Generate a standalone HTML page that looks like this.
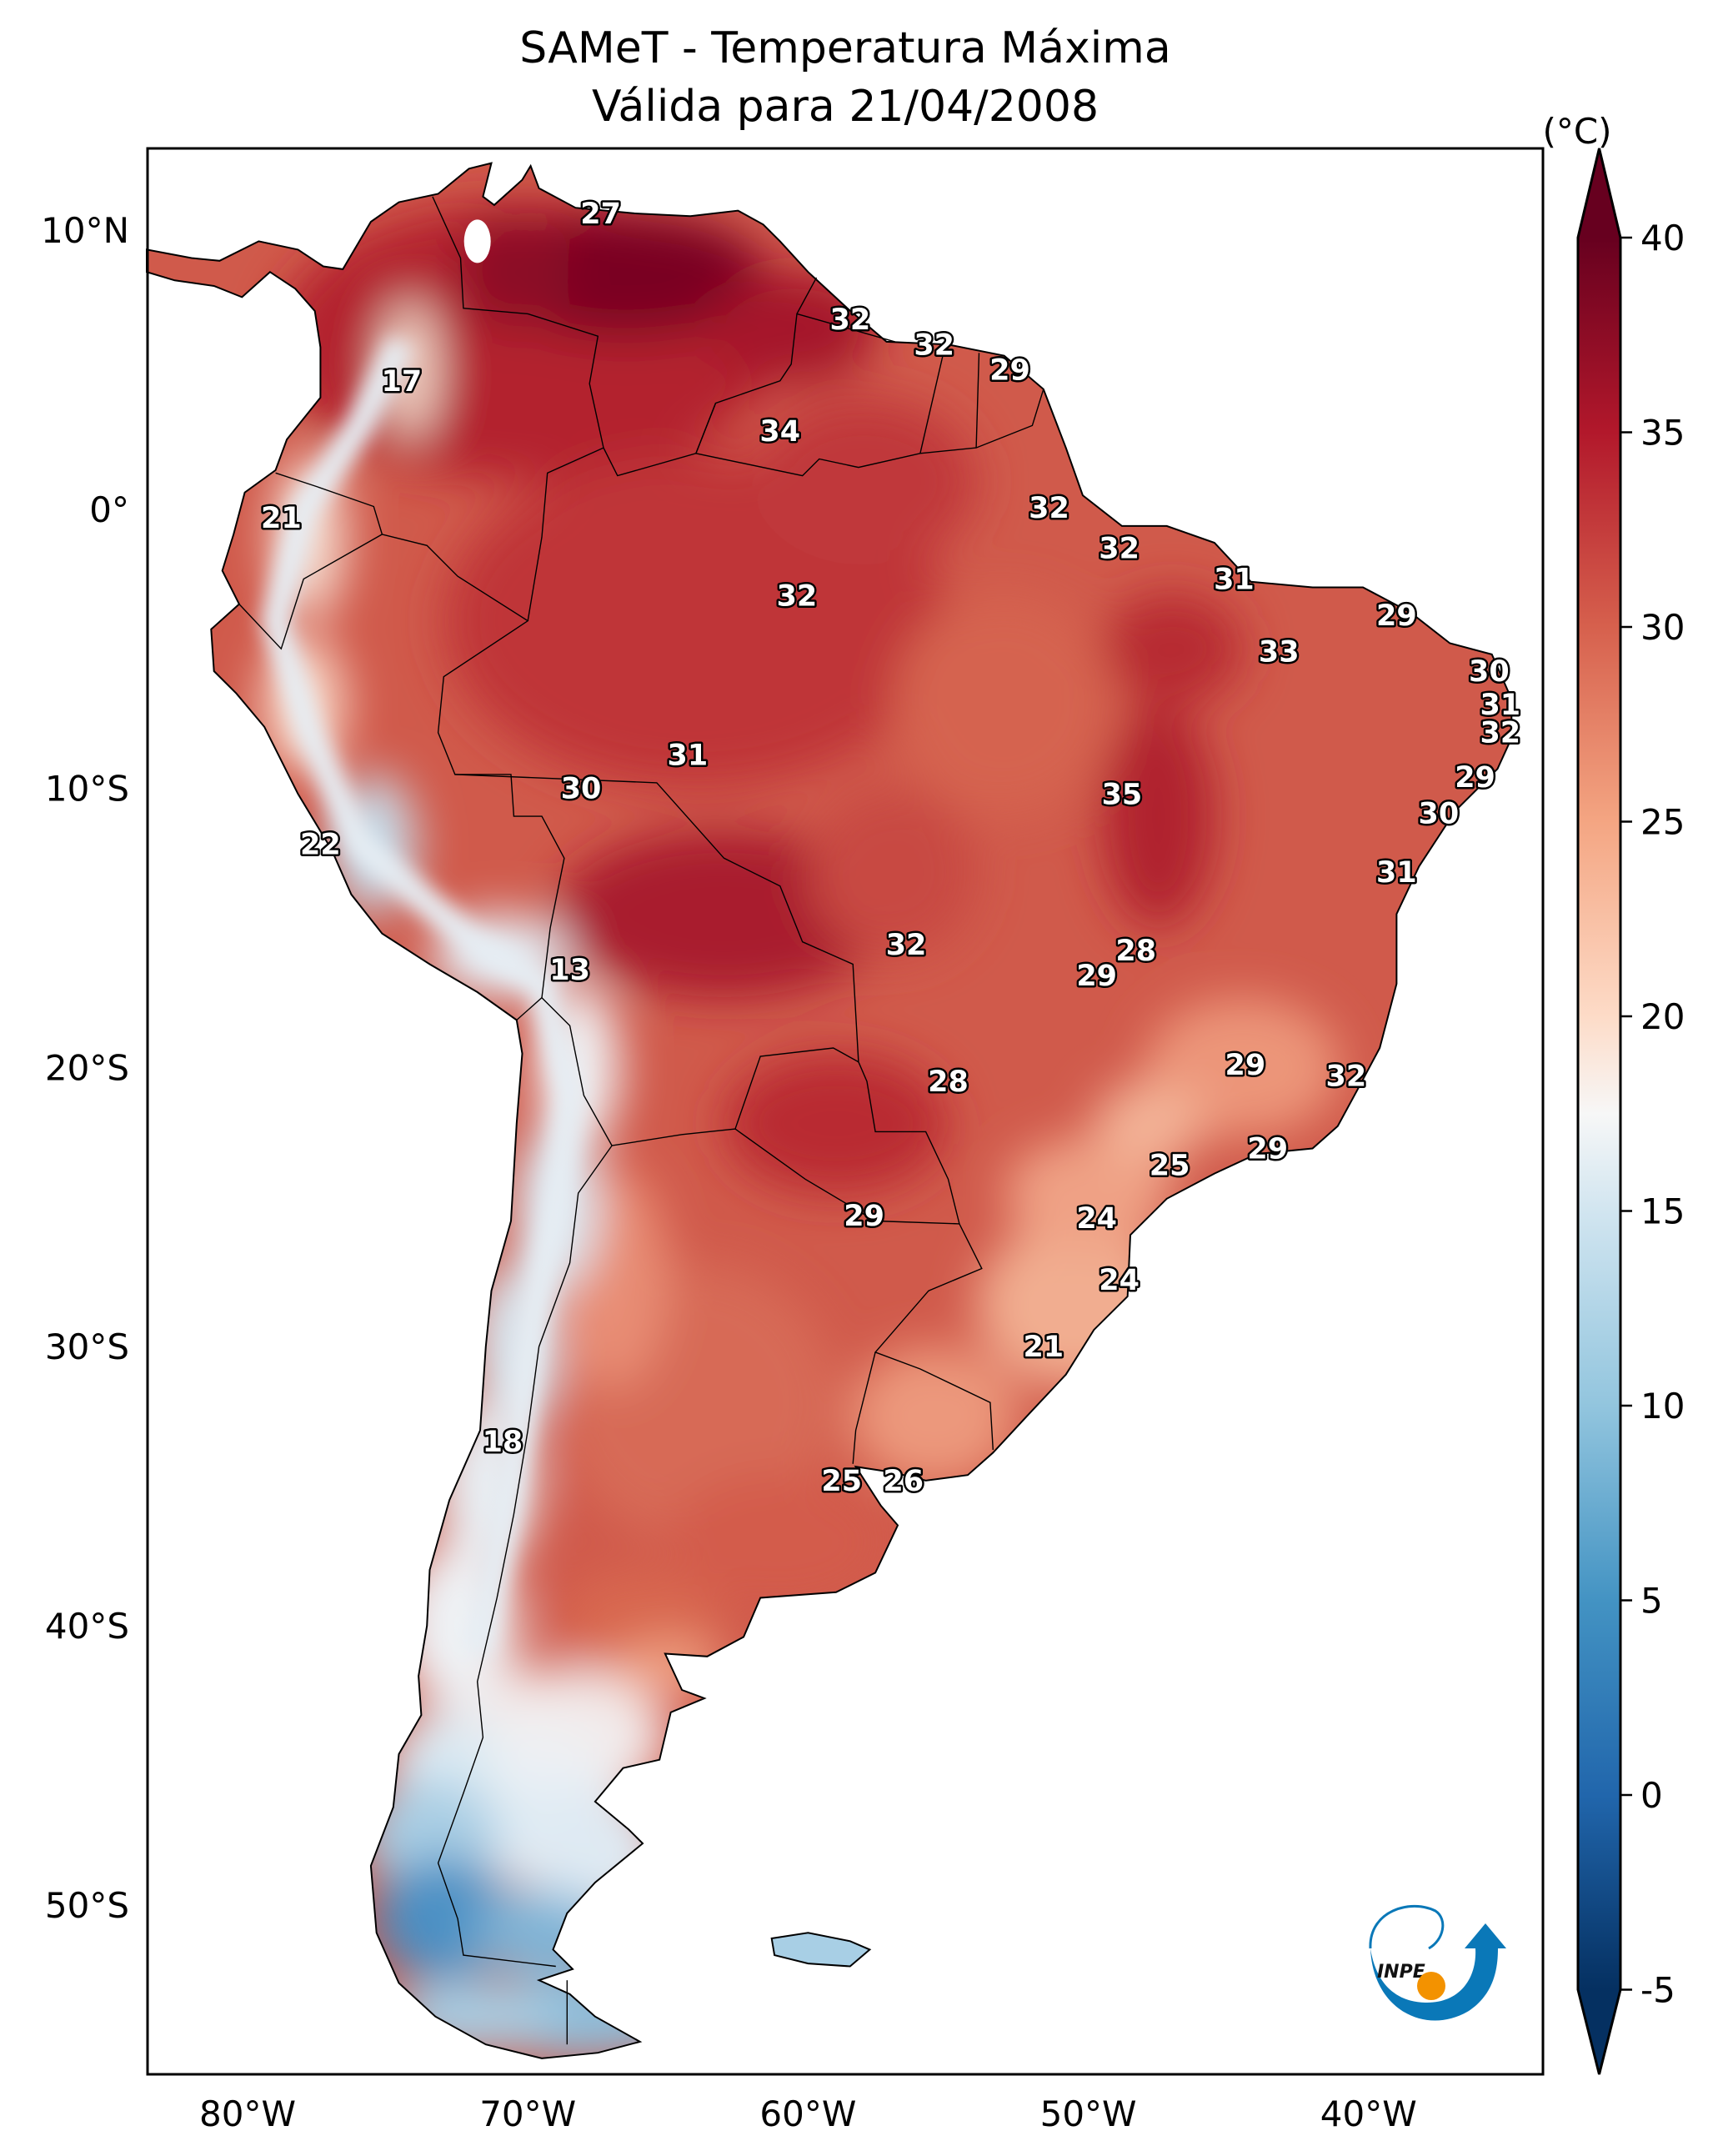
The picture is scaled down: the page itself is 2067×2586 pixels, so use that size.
<!DOCTYPE html>
<html><head><meta charset="utf-8"><title>SAMeT - Temperatura Máxima</title>
<style>
html,body{margin:0;padding:0;background:#fff;}
svg{display:block;font-family:"DejaVu Sans","Liberation Sans",sans-serif;}
</style></head>
<body>
<svg id="chart" width="2067" height="2586" viewBox="0 0 2067 2586" xmlns="http://www.w3.org/2000/svg">
<defs>
  <filter id="blur" x="-50%" y="-50%" width="200%" height="200%"><feGaussianBlur stdDeviation="28"/></filter>
  <filter id="blur2" x="-50%" y="-50%" width="200%" height="200%"><feGaussianBlur stdDeviation="12"/></filter>
  <clipPath id="landclip"><path id="landclippath"/></clipPath>
  <linearGradient id="cbgrad" x1="0" y1="1" x2="0" y2="0">
    <stop offset="0" stop-color="#053061"/>
    <stop offset="0.111" stop-color="#2166ac"/>
    <stop offset="0.222" stop-color="#4393c3"/>
    <stop offset="0.333" stop-color="#92c5de"/>
    <stop offset="0.444" stop-color="#d1e5f0"/>
    <stop offset="0.5" stop-color="#f7f7f7"/>
    <stop offset="0.556" stop-color="#fddbc7"/>
    <stop offset="0.667" stop-color="#f4a582"/>
    <stop offset="0.778" stop-color="#d6604d"/>
    <stop offset="0.889" stop-color="#b2182b"/>
    <stop offset="1" stop-color="#67001f"/>
  </linearGradient>
</defs>
<text x="1014" y="75" font-size="52" text-anchor="middle">SAMeT - Temperatura Máxima</text>
<text x="1014" y="145" font-size="52" text-anchor="middle">Válida para 21/04/2008</text>
<g id="mapgroup"></g>
<rect x="177" y="178" width="1674" height="2310" fill="none" stroke="#000" stroke-width="3"/>
<g id="axes"></g>
<g id="colorbar"></g>
<g transform="translate(-8,-8)">
  <path d="M1652 2345 C1650 2300 1700 2285 1730 2300 C1745 2310 1740 2335 1722 2345" fill="none" stroke="#0a78b8" stroke-width="3"/>
  <path d="M1652 2345 C1655 2420 1720 2450 1770 2420 C1800 2400 1805 2370 1805 2345 L1815 2345 L1790 2315 L1765 2345 L1778 2345 C1780 2380 1760 2410 1720 2410 C1690 2410 1660 2395 1652 2345 Z" fill="#0a78b8"/>
  <text x="1660" y="2380" font-size="22" font-style="italic" font-weight="bold" fill="#111">INPE</text>
  <circle cx="1725" cy="2390" r="17" fill="#f39200"/>
</g>
<script>
// ---- data ----
const lonTicks = [-80, -70, -60, -50, -40];
const lonTickLabels = ["80°W", "70°W", "60°W", "50°W", "40°W"];
const latTicks = [10, 0, -10, -20, -30, -40, -50];
const latTickLabels = ["10°N", "0°", "10°S", "20°S", "30°S", "40°S", "50°S"];
const cbTicks = [40, 35, 30, 25, 20, 15, 10, 5, 0, -5];
const cbTickLabels = ["40", "35", "30", "25", "20", "15", "10", "5", "0", "-5"];
const stationLon = [-67.4,-58.5,-55.5,-52.8,-74.5,-61.0,-78.8,-51.4,-48.9,-44.8,-60.4,-39.0,-43.2,-35.7,-35.3,-35.3,-64.3,-68.1,-48.8,-36.2,-37.5,-77.4,-39.0,-56.5,-48.3,-49.7,-68.5,-44.4,-40.8,-55.0,-47.1,-43.6,-58.0,-49.7,-48.9,-51.6,-70.9,-58.8,-56.6];
const stationLat = [10.6,6.8,5.9,5.0,4.6,2.8,-0.3,0.06,-1.4,-2.5,-3.1,-3.8,-5.1,-5.8,-7.0,-8.0,-8.8,-10.0,-10.2,-9.6,-10.9,-12.0,-13.0,-15.6,-15.8,-16.7,-16.5,-19.9,-20.3,-20.5,-23.5,-22.9,-25.3,-25.4,-27.6,-30.0,-33.4,-34.8,-34.8];
const stationVal = [27,32,32,29,17,34,21,32,32,31,32,29,33,30,31,32,31,30,35,29,30,22,31,32,28,29,13,29,32,28,25,29,29,24,24,21,18,25,26];

// ---- axis functions ----
const KX = 33.62, KY = 33.48;
const X = lon => 297 + (lon + 80) * KX;
const Y = lat => 276 + (10 - lat) * KY;
const CB = v => 285 + (40 - v) * 46.7;
const NS = "http://www.w3.org/2000/svg";
function mk(tag, attrs, parent){ const e=document.createElementNS(NS,tag); for(const k in attrs) e.setAttribute(k,attrs[k]); parent.appendChild(e); return e; }

const coast = [[-83.6,9.3],[-82,9.0],[-81,8.9],[-79.6,9.6],[-78.2,9.3],[-77.3,8.7],[-76.6,8.6],[-75.6,10.3],[-74.6,11.0],[-73.2,11.3],[-72.1,12.2],[-71.3,12.4],[-71.6,11.2],[-71.2,10.9],[-70.2,11.8],[-69.9,12.3],[-69.6,11.5],[-68.3,10.8],[-66.2,10.6],[-64.2,10.5],[-62.5,10.7],[-61.6,10.2],[-61.0,9.6],[-60.0,8.5],[-58.6,7.2],[-57.2,6.0],[-55.0,5.9],[-53.0,5.5],[-51.6,4.3],[-50.8,2.2],[-50.2,0.5],[-48.8,-0.6],[-47.2,-0.6],[-45.5,-1.2],[-44.2,-2.6],[-42,-2.8],[-40.2,-2.8],[-38.5,-3.7],[-37.1,-4.8],[-35.6,-5.2],[-34.9,-6.8],[-34.9,-8.2],[-35.4,-9.3],[-36.9,-10.8],[-38.2,-12.8],[-39.0,-14.5],[-39.0,-17.0],[-39.6,-19.3],[-40.4,-20.8],[-41.1,-22.1],[-42.0,-22.9],[-44.0,-23.1],[-45.5,-23.8],[-47.2,-24.7],[-48.5,-26.0],[-48.6,-28.2],[-49.8,-29.4],[-50.8,-31.0],[-52.2,-32.5],[-53.4,-33.8],[-54.3,-34.6],[-55.8,-34.8],[-57.0,-34.5],[-58.3,-34.3],[-57.4,-35.7],[-56.8,-36.4],[-57.6,-38.1],[-59.0,-38.8],[-61.7,-39.0],[-62.3,-40.4],[-63.6,-41.1],[-65.1,-41.0],[-64.5,-42.3],[-63.7,-42.6],[-64.9,-43.1],[-65.3,-44.8],[-66.6,-45.1],[-67.6,-46.3],[-66.4,-47.3],[-65.9,-47.8],[-67.6,-49.2],[-68.6,-50.3],[-69.1,-51.6],[-68.4,-52.3],[-69.6,-52.7],[-68.5,-53.2],[-67.6,-54.0],[-66.0,-54.9],[-67.5,-55.3],[-69.5,-55.5],[-71.5,-55.0],[-73.3,-54.0],[-74.6,-52.8],[-75.4,-51.0],[-75.6,-48.6],[-74.8,-46.5],[-74.6,-44.6],[-73.8,-43.2],[-73.9,-41.8],[-73.6,-40.0],[-73.5,-38.0],[-72.8,-35.5],[-71.7,-33.0],[-71.5,-30.0],[-71.3,-28.0],[-70.6,-25.5],[-70.4,-22.0],[-70.2,-19.5],[-70.4,-18.3],[-71.8,-17.3],[-73.5,-16.3],[-75.2,-15.2],[-76.3,-13.8],[-77.0,-12.2],[-78.2,-10.2],[-79.4,-7.8],[-80.4,-6.6],[-81.2,-5.8],[-81.3,-4.3],[-80.3,-3.4],[-80.9,-2.2],[-80.5,-0.9],[-80.1,0.6],[-79.0,1.4],[-78.6,2.5],[-77.4,4.0],[-77.4,5.8],[-77.6,7.1],[-78.3,7.9],[-79.2,8.5],[-80.2,7.6],[-81.2,8.0],[-82.6,8.2],[-83.6,8.5]];
function pathOf(pts, close){ return pts.map((p,i)=>(i?'L':'M')+X(p[0]).toFixed(1)+' '+Y(p[1]).toFixed(1)).join(' ')+(close?' Z':''); }
const coastD = pathOf(coast, true);
document.getElementById('landclippath').setAttribute('d', coastD);

const mg = document.getElementById('mapgroup');
const land = mk('g', {'clip-path':'url(#landclip)'}, mg);


mk('path', {d: coastD, fill:'#d05a4b'}, land);
const blobs = mk('g', {filter:'url(#blur)'}, land);
const regions = [
 [-70,6,9,5,'#b3202f'],[-66.5,8.4,5,2.2,'#7a0623'],[-70.5,8.5,2.0,2.0,'#8c0d26'],[-60.5,6.5,3,2,'#a5162c'],
 [-64,-4,9,6,'#bf3538'],[-58,1,4,3,'#c0393a'],[-63,-14.5,6,3,'#a91a2d'],[-47.5,-11,2,4,'#b0202f'],
 [-47,-5,2.5,2,'#b72a33'],[-59,-22,4,2.5,'#b92a33'],[-53,-7,4,4,'#d56350'],[-57,-13,3,3,'#c84a42'],
 [-50.5,-28.5,3.5,3,'#f1ad90'],[-50,-24.5,3,2,'#efa185'],[-44.5,-20,3.5,2.5,'#ec9579'],[-47.8,-22,2,1.5,'#f3b296'],
 [-55.5,-32.5,3,2.5,'#ec987b'],[-64,-32,5,5,'#d76a56'],[-61,-37,4,2.5,'#d35c4c'],[-66,-40,3,2,'#d8684f'],
 [-67,-27.5,2,4,'#e88d74'],[-74.2,5,1.0,2.5,'#f3d6c8'],[-77.8,-1,1.3,3,'#f5ddd0'],[-78,-7,1.5,2.5,'#f7d5c5'],
 [-75.5,-12,1.5,2.5,'#c6deec'],[-71,-16,2.5,1.5,'#e4eef5'],[-68.2,-20,1.5,3,'#f0f2f4'],[-69,-25,1.5,3,'#dde9f2'],
 [-70.5,-30,1.5,3,'#d8e6ef'],[-71.5,-35,1.8,3,'#e8eef3'],[-72.5,-40,2.2,3,'#eef1f4'],[-69,-44,4,2.5,'#f2eaea'],
 [-70,-45.5,3,2,'#eef1f4'],[-69,-47.5,3,2,'#e1ecf4'],[-67.5,-49,2,1.5,'#e3edf4'],
 [-73,-45,2,2,'#dceaf3'],[-73.5,-47.5,2.5,2,'#a9cee4'],[-67.5,-48,2.5,2,'#dfeaf3'],[-73,-50.5,2.5,2.2,'#4b90c4'],[-69.5,-51,2.5,1.5,'#7fb5d8'],
 [-68,-54,4,1.5,'#8ec0dd'],[-72,-54,3,1.3,'#a8cfe5'],[-65,-41.5,2,1,'#ef9f80']
];
regions.forEach(r=>{
  const e = mk('ellipse', {cx:X(r[0]), cy:Y(r[1]), rx:r[2]*KX, ry:r[3]*KY, fill:r[4]}, blobs);
  
  
});
const andes = [[-74.5,6],[-76,3],[-78,0],[-79,-4],[-77.8,-8],[-76,-12],[-72,-15.5],[-69.5,-17],[-68.5,-21],[-69,-25],[-69.8,-29],[-70.3,-33],[-71,-37],[-71.8,-41]];
const ap = mk('path', {d: pathOf(andes,false), fill:'none', stroke:'#e6eef4', 'stroke-width':34, 'stroke-linejoin':'round', filter:'url(#blur2)'}, land);


mk('ellipse', {cx:X(-71.8), cy:Y(9.6), rx:16, ry:26, fill:'#fff'}, mg);
const falk = [[-61.3,-51.2],[-60,-51.0],[-58.5,-51.3],[-57.8,-51.6],[-58.5,-52.2],[-60,-52.1],[-61.2,-51.8]];
const fk = mk('path', {d: pathOf(falk,true), fill:'#a8cfe5', stroke:'#000', 'stroke-width':2}, mg);


const coastLine = mk('path', {d: coastD, fill:'none', stroke:'#000', 'stroke-width':2}, mg);


const borders = [
 [[-73.4,11.2],[-72.4,9],[-72.3,7.2],[-70,7],[-67.5,6.2],[-67.8,4.5],[-67.3,2.2],[-66.8,1.2],[-64,2],[-63.3,3.8],[-61,4.6],[-60.6,5.2],[-60.4,7],[-59.7,8.3]],
 [[-79,1.3],[-77.5,0.8],[-75.5,0.1],[-75.2,-0.9],[-78,-2.5],[-78.8,-5],[-80.3,-3.4]],
 [[-75.2,-0.9],[-73.6,-1.3],[-72.5,-2.4],[-70,-4],[-73,-6],[-73.2,-8],[-72.6,-9.5],[-70.6,-9.5],[-70.5,-11],[-69.5,-11],[-68.7,-12.5],[-69.2,-15],[-69.5,-17.5],[-70.4,-18.3]],
 [[-69.5,-17.5],[-68.5,-18.5],[-68,-21],[-67,-22.8],[-68.2,-24.5],[-68.5,-27],[-69.6,-30],[-70,-33],[-70.5,-36],[-71.1,-39],[-71.8,-42],[-71.6,-44],[-72.3,-46],[-73.2,-48.5],[-72.5,-50.5],[-72.3,-51.8],[-69,-52.2]],
 [[-68.6,-52.7],[-68.6,-55]],
 [[-70,-4],[-69.5,-1],[-69.3,1.3],[-67.3,2.2]],
 [[-72.6,-9.5],[-65.4,-9.8],[-63,-12.5],[-61,-13.5],[-60.2,-15.5],[-58.4,-16.3],[-58.2,-19.8],[-57.9,-20.5],[-57.6,-22.3],[-55.8,-22.3],[-55,-24],[-54.6,-25.6],[-53.8,-27.2],[-55.7,-28],[-57.6,-30.2],[-56,-30.8],[-53.5,-32],[-53.4,-33.7]],
 [[-63.3,3.8],[-64,2],[-60.2,1.2],[-59.6,1.8],[-58.2,1.5],[-56,2],[-54,2.2],[-52,3],[-51.6,4.3]],
 [[-60.4,7],[-56.9,6],[-57.2,6.0]],[[-56,2],[-55.1,5.9]],[[-54,2.2],[-53.9,5.6]],
 [[-67,-22.8],[-64.5,-22.4],[-62.6,-22.2],[-61.7,-19.6],[-59.1,-19.3],[-58.2,-19.8]],
 [[-62.6,-22.2],[-60.1,-24],[-57.6,-25.5],[-54.6,-25.6]],
 [[-57.6,-30.2],[-58.3,-33],[-58.4,-34.2]]
];
borders.forEach(b=>{
  const e = mk('path', {d: pathOf(b,false), fill:'none', stroke:'#000', 'stroke-width':1.4}, mg);
  
  
});
stationVal.forEach((v,i)=>{
  const t = mk('text', {x:X(stationLon[i]), y:Y(stationLat[i])+12, 'font-size':35, 'font-weight':'bold', 'text-anchor':'middle', fill:'#fff', stroke:'#000', 'stroke-width':5, 'paint-order':'stroke', 'stroke-linejoin':'round'}, mg);
  t.textContent = v;
  
  
});
const ax = document.getElementById('axes');
lonTicks.forEach((l,i)=>{
  const t = mk('text', {x:X(l), y:2550, 'font-size':42, 'text-anchor':'middle'}, ax);
  t.textContent = lonTickLabels[i];
  
  
});
latTicks.forEach((l,i)=>{
  const t = mk('text', {x:155, y:Y(l)+15, 'font-size':42, 'text-anchor':'end'}, ax);
  t.textContent = latTickLabels[i];
  
  
});
const cb = document.getElementById('colorbar');
const cbx0 = 1893, cbx1 = 1944, cbm = 1918.5;
const cbTop = CB(40), cbBot = CB(-5);
const tipTop = 178, tipBot = 2488;
mk('path', {d:`M${cbx0} ${cbTop} L${cbm} ${tipTop} L${cbx1} ${cbTop} Z`, fill:'#67001f'}, cb);
mk('path', {d:`M${cbx0} ${cbBot} L${cbm} ${tipBot} L${cbx1} ${cbBot} Z`, fill:'#053061'}, cb);
const cbr = mk('rect', {x:cbx0, y:cbTop, width:cbx1-cbx0, height:cbBot-cbTop, fill:'url(#cbgrad)'}, cb);


mk('path', {d:`M${cbx0} ${cbTop} L${cbm} ${tipTop} L${cbx1} ${cbTop} L${cbx1} ${cbBot} L${cbm} ${tipBot} L${cbx0} ${cbBot} Z`, fill:'none', stroke:'#000', 'stroke-width':3}, cb);
cbTicks.forEach((v,i)=>{
  mk('line', {x1:cbx1, x2:cbx1+14, y1:CB(v), y2:CB(v), stroke:'#000', 'stroke-width':2.5}, cb);
  const t = mk('text', {x:1968, y:CB(v)+15, 'font-size':42}, cb);
  t.textContent = cbTickLabels[i];
  
  
});
const u = mk('text', {x:1892, y:172, 'font-size':42, 'text-anchor':'middle'}, cb);
u.textContent = '(°C)';


</script>
</svg>
</body></html>
